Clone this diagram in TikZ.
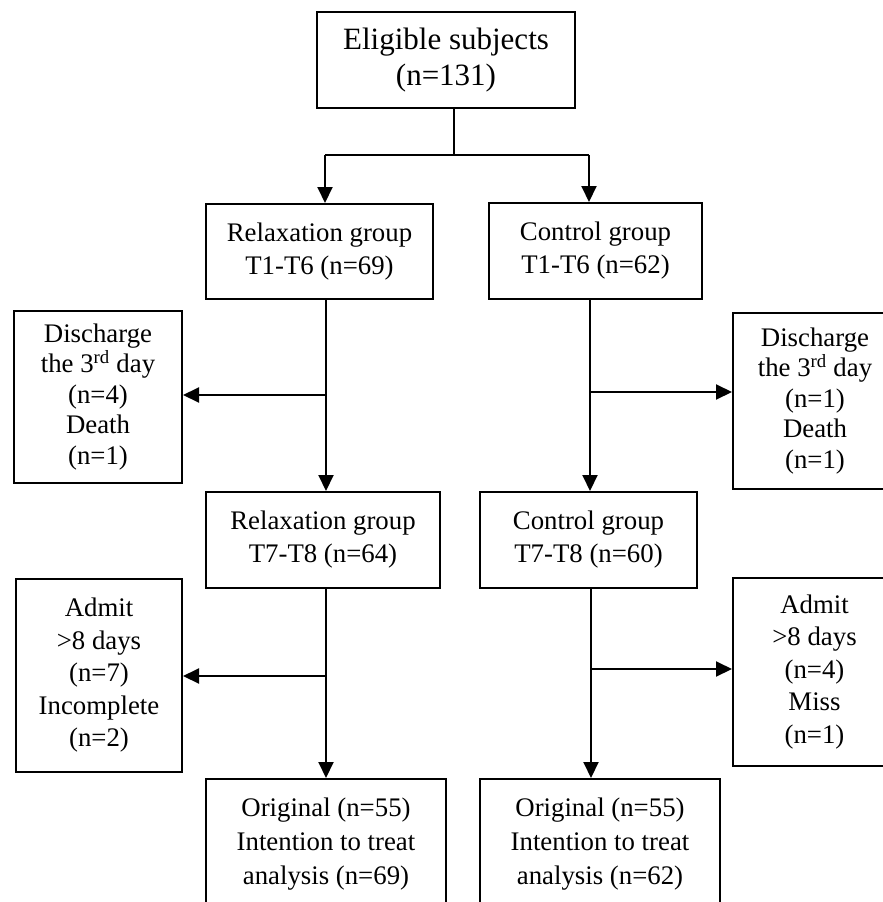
\documentclass[tikz,border=0pt]{standalone}
\usepackage{fontspec}
\setmainfont{Liberation Serif}
\usetikzlibrary{arrows.meta}
\begin{document}
\begin{tikzpicture}[x=1pt,y=-1pt,
  box/.style={draw,line width=2pt,inner sep=0pt,align=center,anchor=center,
    font=\fontsize{26.8}{33}\selectfont},
  sidebox/.style={box,font=\fontsize{26.8}{30.5}\selectfont},
  conn/.style={line width=2pt},
  arr/.style={line width=2pt,-{Triangle[length=16pt,width=15pt]}}]
\useasboundingbox (0,0) rectangle (883,902);
\clip (0,0) rectangle (883,902);
\fill[white] (0,0) rectangle (883,902);
% nodes
\node[box,minimum width=258pt,minimum height=96pt,font=\fontsize{31}{36}\selectfont] (top) at (446,60) {Eligible subjects\\(n=131)};
\node[box,minimum width=227pt,minimum height=95pt] (r1) at (319.5,251.5) {Relaxation group\\T1-T6 (n=69)};
\node[box,minimum width=213pt,minimum height=96pt] (c1) at (595.5,251) {Control group\\T1-T6 (n=62)};
\node[sidebox,minimum width=168pt,minimum height=172pt] (d1) at (98,397) {Discharge\\the 3\textsuperscript{rd} day\\(n=4)\\Death\\(n=1)};
\node[sidebox,minimum width=164pt,minimum height=176pt] (d2) at (815,401) {Discharge\\the 3\textsuperscript{rd} day\\(n=1)\\Death\\(n=1)};
\node[box,minimum width=234pt,minimum height=96pt] (r2) at (323,540) {Relaxation group\\T7-T8 (n=64)};
\node[box,minimum width=217pt,minimum height=96pt] (c2) at (588.5,540) {Control group\\T7-T8 (n=60)};
\node[box,font=\fontsize{26.8}{32.5}\selectfont,minimum width=166pt,minimum height=193pt] (a1) at (99,675.5) {Admit\\>8 days\\(n=7)\\Incomplete\\(n=2)};
\node[box,font=\fontsize{26.8}{32.5}\selectfont,minimum width=163pt,minimum height=188pt] (a2) at (814.5,672) {Admit\\>8 days\\(n=4)\\Miss\\(n=1)};
\node[box,font=\fontsize{26.8}{34}\selectfont,minimum width=240pt,minimum height=131pt] (o1) at (326,844.5) {Original (n=55)\\Intention to treat\\analysis (n=69)};
\node[box,font=\fontsize{26.8}{34}\selectfont,minimum width=240pt,minimum height=131pt] (o2) at (600,844.5) {Original (n=55)\\Intention to treat\\analysis (n=62)};
% junctions
\coordinate (j0) at (454,155);
\coordinate (jl) at (325,155);
\coordinate (jr) at (589,155);
\coordinate (b1) at (326,395);
\coordinate (b2) at (590,392);
\coordinate (b3) at (326,676);
\coordinate (b4) at (591,669);
% connectors
\draw[conn] (top.south -| j0) -- (j0);
\draw[conn] (jl) -- (jr);
\draw[arr] (jl) -- (jl |- r1.north);
\draw[arr] (jr) -- (jr |- c1.north);
\draw[arr] (r1.south -| b1) -- (b1 |- r2.north);
\draw[arr] (b1) -- (b1 -| d1.east);
\draw[arr] (c1.south -| b2) -- (b2 |- c2.north);
\draw[arr] (b2) -- (b2 -| d2.west);
\draw[arr] (r2.south -| b3) -- (b3 |- o1.north);
\draw[arr] (b3) -- (b3 -| a1.east);
\draw[arr] (c2.south -| b4) -- (b4 |- o2.north);
\draw[arr] (b4) -- (b4 -| a2.west);
\end{tikzpicture}
\end{document}
